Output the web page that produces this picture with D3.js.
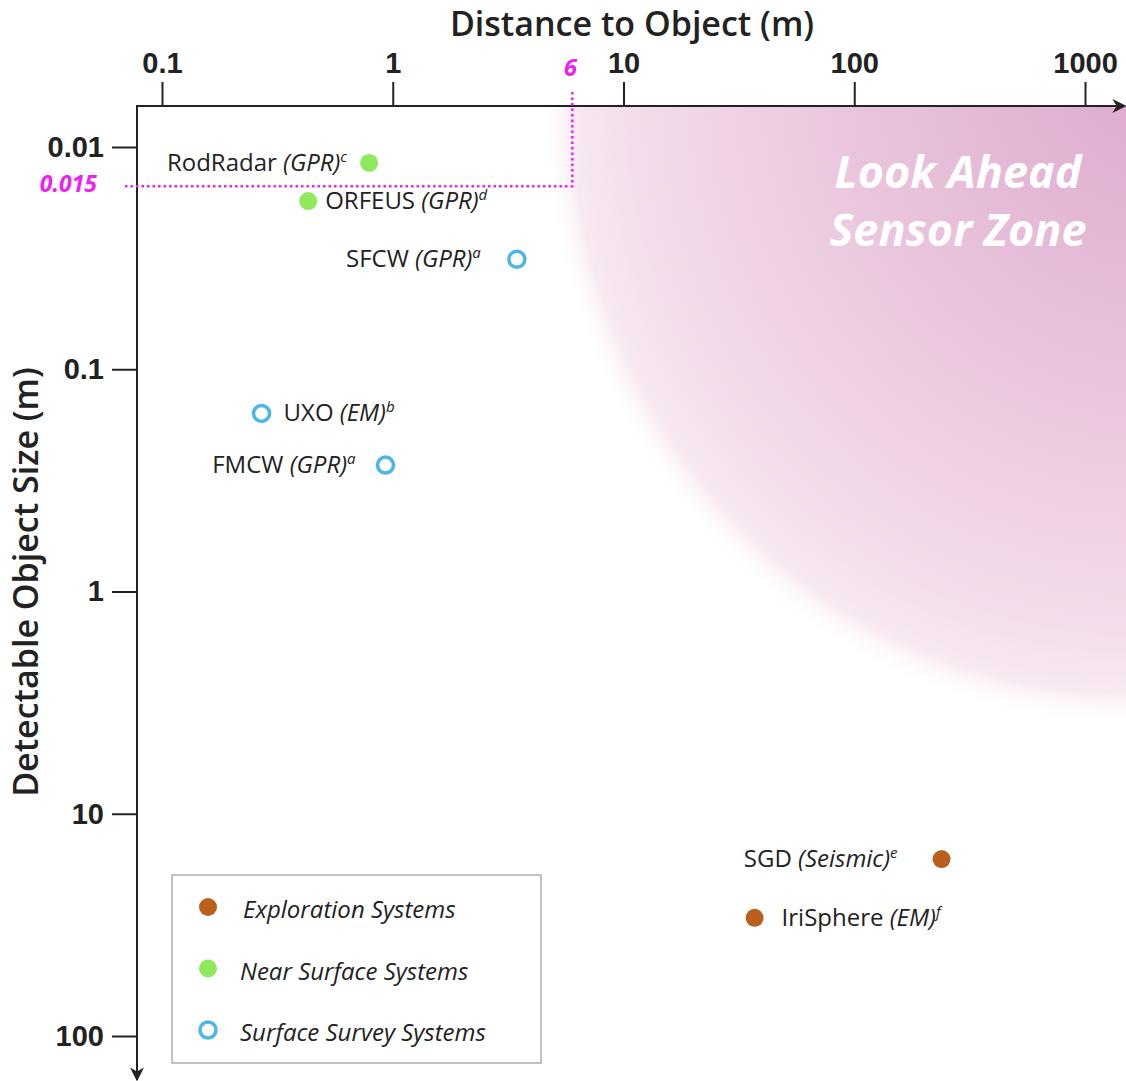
<!DOCTYPE html>
<html>
<head>
<meta charset="utf-8">
<script src="https://cdn.jsdelivr.net/npm/d3@7"></script>
<style>
  body { margin: 0; background: #fff; }
  svg { font-family: "Open Sans", "Noto Sans", sans-serif; }
</style>
</head>
<body>
<svg id="chart"></svg>
<script>
// values
let names = ['RodRadar', 'ORFEUS', 'SFCW', 'UXO', 'FMCW', 'SGD', 'IriSphere']
let methods = ['GPR', 'GPR', 'GPR', 'EM', 'GPR', 'Seismic', 'EM']
let refs = ['c', 'd', 'a', 'b', 'a', 'e', 'f']
let distance = [0.79, 0.43, 3.45, 0.27, 0.93, 239, 37]
let objectSize = [0.0118, 0.0175, 0.032, 0.158, 0.27, 16, 29.4]
let group = ['near', 'near', 'surface', 'surface', 'surface', 'exploration', 'exploration']

let groupKeys = ['exploration', 'near', 'surface']
let groupLabels = ['Exploration Systems', 'Near Surface Systems', 'Surface Survey Systems']

let xTicks = [0.1, 1, 10, 100, 1000]
let yTicks = [0.01, 0.1, 1, 10, 100]
let markDistance = 6
let markSize = 0.015

// where each label sits relative to its dot
let labelSide = { RodRadar: ['end', -22], ORFEUS: ['start', 17], SFCW: ['end', -36], UXO: ['start', 22],
                  FMCW: ['end', -30], SGD: ['end', -44], IriSphere: ['start', 27] }

let width = 1126
let height = 1081
let axisX = 137
let axisY = 106

let svg = d3.select('#chart').attr('width', width).attr('height', height)

let xScale = d3.scaleLog().domain([0.1, 1000]).range([162, 1085])
let yScale = d3.scaleLog().domain([0.01, 100]).range([147, 1036])

let defs = svg.append('defs')
let grad = defs.append('radialGradient').attr('id', 'zone')
  .attr('gradientUnits', 'userSpaceOnUse')
  .attr('cx', 1126).attr('cy', axisY).attr('r', 585)
  .attr('fx', 1180).attr('fy', 40)
  .attr('gradientTransform', 'translate(1126,106) scale(1,1.06) translate(-1126,-106)')
grad.append('stop').attr('offset', 0).attr('stop-color', '#dca6ca')
grad.append('stop').attr('offset', 0.5).attr('stop-color', '#e9c4dc')
grad.append('stop').attr('offset', 0.85).attr('stop-color', '#f3dceb')
grad.append('stop').attr('offset', 0.95).attr('stop-color', '#f7e8f1')
grad.append('stop').attr('offset', 1).attr('stop-color', '#ffffff').attr('stop-opacity', 0)

defs.append('clipPath').attr('id', 'plotClip')
  .append('rect').attr('x', axisX).attr('y', axisY).attr('width', width - axisX).attr('height', height - axisY)

defs.append('marker').attr('id', 'arrow')
  .attr('viewBox', '0 0 10 10').attr('refX', 9).attr('refY', 5)
  .attr('markerWidth', 16).attr('markerHeight', 14).attr('markerUnits', 'userSpaceOnUse')
  .attr('orient', 'auto')
  .append('path').attr('d', 'M0,0 L10,5 L0,10 L3,5 Z').attr('fill', '#222')

// look ahead zone
svg.append('g').attr('clip-path', 'url(#plotClip)')
  .append('rect')
  .attr('x', axisX).attr('y', axisY).attr('width', width - axisX).attr('height', height - axisY)
  .attr('fill', 'url(#zone)')

svg.append('text').attr('x', 958).attr('y', 188)
  .attr('text-anchor', 'middle').attr('fill', '#fff')
  .attr('font-size', 45).attr('font-weight', 'bold').attr('font-style', 'italic')
  .text('Look Ahead')
svg.append('text').attr('x', 958).attr('y', 246)
  .attr('text-anchor', 'middle').attr('fill', '#fff')
  .attr('font-size', 45).attr('font-weight', 'bold').attr('font-style', 'italic')
  .text('Sensor Zone')

// axes
let xAxis = d3.axisTop(xScale).tickValues(xTicks).tickFormat(d3.format('~g'))
  .tickSize(24).tickPadding(9).tickSizeOuter(0)
let gx = svg.append('g').attr('transform', 'translate(0,' + axisY + ')').call(xAxis)
gx.select('.domain').remove()
gx.selectAll('.tick line').attr('stroke', '#222').attr('stroke-width', 2)
gx.selectAll('.tick text').attr('font-size', 29).attr('font-weight', 600).attr('fill', '#222')

let yAxis = d3.axisLeft(yScale).tickValues(yTicks).tickFormat(d3.format('~g'))
  .tickSize(25).tickPadding(8).tickSizeOuter(0)
let gy = svg.append('g').attr('transform', 'translate(' + axisX + ',0)').call(yAxis)
gy.select('.domain').remove()
gy.selectAll('.tick line').attr('stroke', '#222').attr('stroke-width', 2)
gy.selectAll('.tick text').attr('font-size', 29).attr('font-weight', 600).attr('fill', '#222')

svg.append('line').attr('x1', axisX - 1).attr('y1', axisY).attr('x2', 1125).attr('y2', axisY)
  .attr('stroke', '#222').attr('stroke-width', 2).attr('marker-end', 'url(#arrow)')
svg.append('line').attr('x1', axisX).attr('y1', axisY).attr('x2', axisX).attr('y2', 1080)
  .attr('stroke', '#222').attr('stroke-width', 2).attr('marker-end', 'url(#arrow)')

svg.append('text').attr('x', 632).attr('y', 36).attr('text-anchor', 'middle')
  .attr('font-size', 34).attr('font-weight', 600).attr('fill', '#222')
  .text('Distance to Object (m)')
svg.append('text').attr('transform', 'translate(38,' + 582 + ') rotate(-90)')
  .attr('text-anchor', 'middle')
  .attr('font-size', 34).attr('font-weight', 600).attr('fill', '#222')
  .text('Detectable Object Size (m)')

// magenta guide at 6 m / 0.015 m
let gxm = xScale(markDistance)
let gym = yScale(markSize)
svg.append('path')
  .attr('d', 'M' + (axisX - 12) + ',' + gym + ' H' + gxm + ' V' + (axisY - 14))
  .attr('fill', 'none').attr('stroke', '#f020f0').attr('stroke-width', 2.5)
  .attr('stroke-dasharray', '2.5,3')
svg.append('text').attr('x', gxm - 2).attr('y', 76).attr('text-anchor', 'middle')
  .attr('fill', '#f020f0').attr('font-size', 24).attr('font-weight', 'bold').attr('font-style', 'italic')
  .text(markDistance)
svg.append('text').attr('x', 97).attr('y', gym + 6).attr('text-anchor', 'end')
  .attr('fill', '#f020f0').attr('font-size', 23).attr('font-weight', 'bold').attr('font-style', 'italic')
  .text(markSize)

// points
let colors = { exploration: '#b8601c', near: '#8eea5c', surface: '#4cb6ea' }

let drawMarker = (sel, g) => {
  if (g == 'surface') {
    sel.attr('r', 8).attr('fill', '#fff').attr('stroke', colors[g]).attr('stroke-width', 3.5)
  } else {
    sel.attr('r', 9).attr('fill', colors[g])
  }
}

names.forEach((name, i) => {
  let cx = xScale(distance[i])
  let cy = yScale(objectSize[i])
  svg.append('circle').attr('cx', cx).attr('cy', cy).call(drawMarker, group[i])

  let side = labelSide[name]
  let t = svg.append('text').attr('x', cx + side[1]).attr('y', cy + 8)
    .attr('text-anchor', side[0]).attr('font-size', 24).attr('fill', '#222')
  t.append('tspan').text(name + ' ')
  t.append('tspan').attr('font-style', 'italic').text('(' + methods[i] + ')')
  t.append('tspan').attr('font-style', 'italic').attr('font-size', 15).attr('dy', -9).text(refs[i])
})

// legend
let legend = svg.append('g')
legend.append('rect').attr('x', 172).attr('y', 875).attr('width', 369).attr('height', 188)
  .attr('fill', '#fff').attr('stroke', '#999').attr('stroke-width', 1.2)
groupKeys.forEach((g, i) => {
  let ly = 907 + i * 61.5
  legend.append('circle').attr('cx', 208).attr('cy', ly).call(drawMarker, g)
  legend.append('text').attr('x', i == 0 ? 243 : 240).attr('y', ly + 11)
    .attr('font-size', 24).attr('font-style', 'italic').attr('fill', '#222')
    .text(groupLabels[i])
})
</script>
</body>
</html>
